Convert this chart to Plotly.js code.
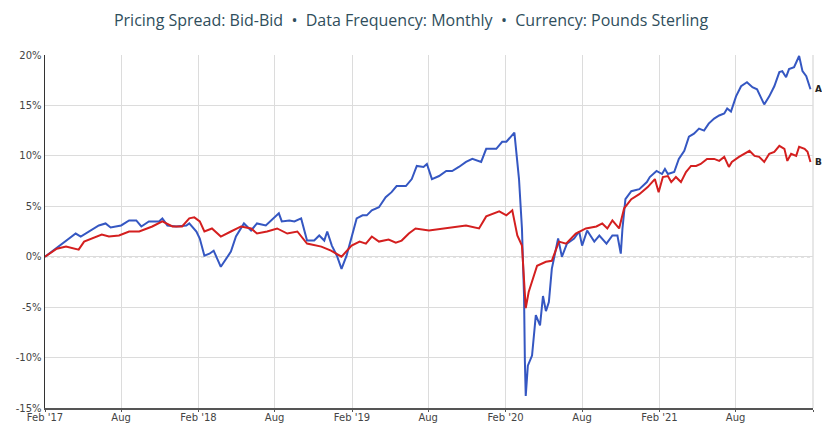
<!DOCTYPE html>
<html>
<head>
<meta charset="utf-8">
<script src="https://cdn.plot.ly/plotly-3.0.1.min.js"></script>
<style>html,body{margin:0;padding:0;background:#fff;}#chart{width:822px;height:423px;}</style>
</head>
<body>
<div id="chart"></div>
<script>
const titleText = "Pricing Spread: Bid-Bid  \u2022  Data Frequency: Monthly  \u2022  Currency: Pounds Sterling";

const datesA = ["2017-02-01","2017-03-06","2017-04-06","2017-04-15","2017-04-27","2017-05-16","2017-06-09","2017-06-25","2017-07-07","2017-08-01","2017-08-20","2017-09-06","2017-09-18","2017-10-06","2017-10-30","2017-11-07","2017-11-19","2017-12-10","2018-01-03","2018-01-10","2018-01-27","2018-02-04","2018-02-10","2018-02-15","2018-02-27","2018-03-09","2018-03-26","2018-04-07","2018-04-19","2018-05-01","2018-05-20","2018-06-06","2018-06-20","2018-07-11","2018-07-30","2018-08-11","2018-08-18","2018-09-05","2018-09-17","2018-10-03","2018-10-17","2018-11-03","2018-11-15","2018-11-27","2018-12-04","2018-12-15","2018-12-27","2019-01-07","2019-01-19","2019-02-03","2019-02-12","2019-02-26","2019-03-08","2019-03-20","2019-04-06","2019-04-22","2019-05-06","2019-05-18","2019-06-09","2019-06-23","2019-07-05","2019-07-21","2019-07-29","2019-08-10","2019-08-27","2019-09-13","2019-09-27","2019-10-13","2019-10-30","2019-11-14","2019-12-05","2019-12-17","2020-01-10","2020-01-24","2020-02-03","2020-02-22","2020-03-04","2020-03-11","2020-03-16","2020-03-18","2020-03-20","2020-03-25","2020-04-04","2020-04-13","2020-04-23","2020-04-30","2020-05-07","2020-05-14","2020-05-21","2020-06-05","2020-06-14","2020-06-26","2020-07-13","2020-07-25","2020-08-01","2020-08-13","2020-08-30","2020-09-11","2020-09-28","2020-10-12","2020-10-24","2020-11-01","2020-11-05","2020-11-12","2020-11-26","2020-12-15","2021-01-02","2021-01-09","2021-01-25","2021-02-07","2021-02-14","2021-02-21","2021-03-08","2021-03-19","2021-04-01","2021-04-12","2021-04-24","2021-05-06","2021-05-18","2021-05-29","2021-06-11","2021-06-23","2021-07-05","2021-07-12","2021-07-21","2021-08-02","2021-08-14","2021-08-28","2021-09-10","2021-09-21","2021-10-08","2021-10-20","2021-11-01","2021-11-13","2021-11-20","2021-11-29","2021-12-06","2021-12-18","2021-12-30","2022-01-07","2022-01-16","2022-01-26"];
const valuesA = [0,1.0,2.0,2.3,2.0,2.5,3.1,3.3,2.9,3.1,3.6,3.6,3.0,3.5,3.5,3.8,3.1,3.0,3.1,3.3,2.5,1.8,0.8,0.1,0.3,0.6,-1.0,-0.2,0.5,2.0,3.3,2.6,3.3,3.1,3.8,4.3,3.5,3.6,3.5,3.8,1.6,1.6,2.1,1.6,2.5,1.1,0.1,-1.2,0.1,2.3,3.8,4.1,4.1,4.6,4.9,5.9,6.4,7.0,7.0,7.7,9.0,8.9,9.2,7.7,8.0,8.5,8.5,8.9,9.4,9.7,9.4,10.7,10.7,11.4,11.4,12.3,7.7,2.8,-3.9,-10.4,-13.8,-10.8,-9.8,-5.8,-6.8,-3.9,-5.4,-4.5,-1.2,1.8,0.0,1.3,1.8,2.5,1.1,2.6,1.5,2.1,1.3,2.1,2.1,0.3,2.8,5.7,6.5,6.7,7.4,7.9,8.5,8.2,8.7,8.2,8.4,9.7,10.5,11.9,12.2,12.7,12.5,13.2,13.7,14.0,14.2,14.7,14.4,15.9,16.9,17.3,16.8,16.6,15.1,15.9,16.9,18.3,18.4,17.8,18.6,18.8,19.9,18.4,17.9,16.6];

const datesB = ["2017-02-01","2017-03-01","2017-03-23","2017-04-15","2017-04-22","2017-05-05","2017-05-23","2017-06-16","2017-07-03","2017-07-27","2017-08-20","2017-09-13","2017-10-14","2017-11-07","2017-12-01","2017-12-24","2018-01-10","2018-01-22","2018-02-04","2018-02-15","2018-03-05","2018-03-26","2018-04-19","2018-05-13","2018-06-06","2018-06-20","2018-07-14","2018-08-07","2018-08-31","2018-09-24","2018-10-17","2018-11-20","2018-12-13","2019-01-07","2019-01-31","2019-02-19","2019-03-06","2019-03-20","2019-04-06","2019-04-29","2019-05-16","2019-05-30","2019-06-16","2019-07-02","2019-08-03","2019-09-03","2019-10-06","2019-10-30","2019-11-30","2019-12-17","2020-01-17","2020-02-03","2020-02-17","2020-02-29","2020-03-11","2020-03-16","2020-03-20","2020-03-27","2020-04-04","2020-04-16","2020-05-07","2020-05-21","2020-06-07","2020-06-24","2020-07-17","2020-08-10","2020-09-04","2020-09-18","2020-09-30","2020-10-12","2020-10-28","2020-11-09","2020-11-26","2020-12-15","2021-01-04","2021-01-21","2021-01-30","2021-02-09","2021-02-21","2021-03-01","2021-03-12","2021-03-24","2021-04-05","2021-04-17","2021-04-29","2021-05-10","2021-05-25","2021-06-11","2021-06-23","2021-07-05","2021-07-16","2021-07-23","2021-08-09","2021-08-21","2021-09-03","2021-09-15","2021-09-26","2021-10-08","2021-10-20","2021-11-01","2021-11-13","2021-11-25","2021-12-02","2021-12-11","2021-12-23","2021-12-30","2022-01-12","2022-01-19","2022-01-26"];
const valuesB = [0,0.8,1.0,0.8,0.7,1.5,1.8,2.2,2.0,2.1,2.5,2.5,3.0,3.5,3.0,3.0,3.8,3.9,3.5,2.5,2.8,2.0,2.5,3.0,2.8,2.3,2.5,2.8,2.3,2.5,1.3,1.0,0.6,0.0,1.1,1.5,1.3,2.0,1.5,1.7,1.4,1.6,2.3,2.8,2.6,2.8,3.0,3.1,2.8,4.0,4.5,4.1,4.6,2.1,1.1,-2.2,-5.1,-3.5,-2.5,-0.9,-0.5,-0.4,1.5,1.3,2.3,2.8,3.0,3.3,2.8,3.6,2.8,4.8,5.7,6.2,6.9,7.7,6.4,7.9,8.0,7.4,7.9,7.4,8.4,9.0,9.0,9.2,9.7,9.7,9.5,9.9,8.9,9.4,9.9,10.2,10.5,10.0,9.9,9.4,10.2,10.4,11.0,10.7,9.5,10.2,10.0,10.9,10.7,10.4,9.4];

const tickDates = ["2017-02-01","2017-08-01","2018-02-01","2018-08-01","2019-02-01","2019-08-01","2020-02-01","2020-08-01","2021-02-01","2021-08-01","2022-02-01"];
const tickLabels = ["Feb '17","Aug","Feb '18","Aug","Feb '19","Aug","Feb '20","Aug","Feb '21","Aug",""];
const yTicks = [-15,-10,-5,0,5,10,15,20];
const yLabels = ["-15%","-10%","-5%","0%","5%","10%","15%","20%"];
const seriesNames = ["A","B"];

const traces = [
  {x: datesA, y: valuesA, type: "scatter", mode: "lines", name: seriesNames[0],
   line: {color: "#3557c2", width: 2}},
  {x: datesB, y: valuesB, type: "scatter", mode: "lines", name: seriesNames[1],
   line: {color: "#d41f1f", width: 2}}
];

const layout = {
  width: 822, height: 423,
  margin: {l: 45, r: 9, t: 55, b: 15},
  paper_bgcolor: "#fff", plot_bgcolor: "#fff",
  showlegend: false,
  title: {text: titleText, x: 0.5, xanchor: "center", y: 0.952, yanchor: "middle",
          font: {family: "Open Sans, sans-serif", size: 16, color: "#2f4e5c"}},
  xaxis: {type: "date", range: ["2017-02-01","2022-02-01"],
          tickvals: tickDates, ticktext: tickLabels,
          showgrid: true, gridcolor: "#dcdcdc", gridwidth: 1,
          showline: true, linecolor: "#555", linewidth: 1.5,
          ticks: "outside", ticklen: 2, tickcolor: "#555",
          ticklabelstandoff: -3,
          tickfont: {family: "DejaVu Sans, sans-serif", size: 10, color: "#444"},
          zeroline: false, fixedrange: true},
  yaxis: {range: [-15, 20], tickvals: yTicks, ticktext: yLabels,
          showgrid: true, gridcolor: "#dcdcdc", gridwidth: 1,
          showline: true, linecolor: "#333", linewidth: 1.5,
          ticks: "", tickfont: {family: "DejaVu Sans, sans-serif", size: 10, color: "#444"},
          zeroline: false, fixedrange: true},
  shapes: [
    {type: "line", xref: "paper", x0: 0, x1: 1, yref: "y", y0: 0, y1: 0,
     line: {color: "#777", width: 1, dash: "3px,3px"}, layer: "below"},
    {type: "line", xref: "paper", x0: 1, x1: 1, yref: "paper", y0: 0, y1: 1,
     line: {color: "#cfcfcf", width: 1}, layer: "below"}
  ],
  annotations: [
    {x: datesA[datesA.length-1], y: valuesA[valuesA.length-1], text: "<b>" + seriesNames[0] + "</b>",
     showarrow: false, xanchor: "left", xshift: 3, font: {family: "DejaVu Sans, sans-serif", size: 9, color: "#222"}},
    {x: datesB[datesB.length-1], y: valuesB[valuesB.length-1], text: "<b>" + seriesNames[1] + "</b>",
     showarrow: false, xanchor: "left", xshift: 3, font: {family: "DejaVu Sans, sans-serif", size: 9, color: "#222"}}
  ]
};

Plotly.newPlot("chart", traces, layout, {displayModeBar: false, staticPlot: true});
</script>
</body>
</html>
